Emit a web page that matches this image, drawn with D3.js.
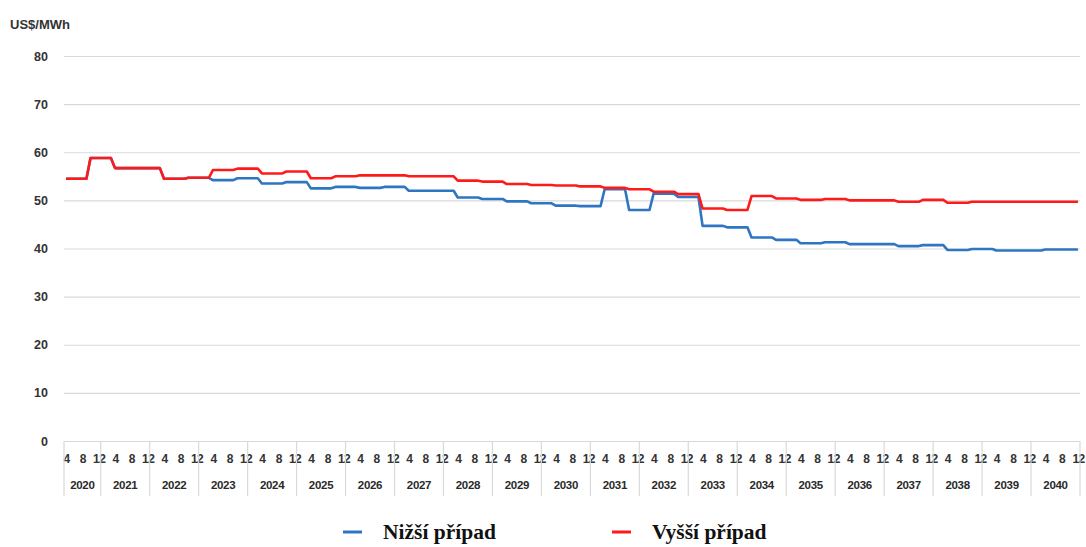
<!DOCTYPE html>
<html>
<head>
<meta charset="utf-8">
<script src="https://cdn.jsdelivr.net/npm/d3@7"></script>
<style>
  body { margin: 0; background: #fff; }
  svg { display: block; }
  .tick text { font-family: "Liberation Sans", Arial, sans-serif; font-weight: bold; fill: #333; }
</style>
</head>
<body>
<svg width="1086" height="547"></svg>
<script>
// semi-annual price periods (first month of each period)
var periodStart = [
  "2020-04", "2020-10", "2021-04", "2021-10", "2022-04", "2022-10",
  "2023-04", "2023-10", "2024-04", "2024-10", "2025-04", "2025-10",
  "2026-04", "2026-10", "2027-04", "2027-10", "2028-04", "2028-10",
  "2029-04", "2029-10", "2030-04", "2030-10", "2031-04", "2031-10",
  "2032-04", "2032-10", "2033-04", "2033-10", "2034-04", "2034-10",
  "2035-04", "2035-10", "2036-04", "2036-10", "2037-04", "2037-10",
  "2038-04", "2038-10", "2039-04", "2039-10", "2040-04", "2040-10"
];
var lowCase = [
  54.5, 58.8, 56.7, 56.7, 54.5, 54.7,
  54.2, 54.6, 53.5, 53.8, 52.5, 52.8,
  52.6, 52.8, 52.0, 52.0, 50.6, 50.3,
  49.8, 49.4, 48.9, 48.8, 52.3, 48.0,
  51.4, 50.7, 44.7, 44.4, 42.3, 41.8,
  41.1, 41.3, 40.9, 40.9, 40.5, 40.7,
  39.7, 39.9, 39.6, 39.6, 39.8, 39.8
];
var highCase = [
  54.5, 58.8, 56.7, 56.7, 54.5, 54.7,
  56.3, 56.6, 55.6, 56.0, 54.6, 55.0,
  55.2, 55.2, 55.0, 55.0, 54.1, 53.9,
  53.4, 53.2, 53.1, 52.9, 52.6, 52.3,
  51.8, 51.3, 48.3, 48.0, 50.9, 50.4,
  50.1, 50.3, 50.0, 50.0, 49.7, 50.1,
  49.5, 49.7, 49.7, 49.7, 49.7, 49.7
];
var years = [2020, 2021, 2022, 2023, 2024, 2025, 2026, 2027, 2028, 2029, 2030,
  2031, 2032, 2033, 2034, 2035, 2036, 2037, 2038, 2039, 2040];
var monthLabels = [4, 8, 12];
var yTicks = [0, 10, 20, 30, 40, 50, 60, 70, 80];
var firstMonth = 4;   // April 2020
var lastMonth = 12;   // December 2040

var svg = d3.select('svg');
var plotLeft = 64, plotRight = 1080, plotTop = 56, plotBottom = 441;

// month index from April 2020
var monthIdx = function(yr, m) { return (yr - years[0]) * 12 + (m - firstMonth); };
var lastIdx = monthIdx(years[years.length - 1], lastMonth);

var x = d3.scaleLinear().domain([-0.5, lastIdx + 0.5]).range([plotLeft, plotRight]);
var y = d3.scaleLinear().domain([0, 80]).range([plotBottom, plotTop]);

// gridlines + y labels
var yAxis = svg.append('g')
  .attr('transform', 'translate(' + plotLeft + ',0)')
  .call(d3.axisLeft(y).tickValues(yTicks).tickSize(-(plotRight - plotLeft)).tickPadding(16));
yAxis.select('.domain').remove();
yAxis.selectAll('.tick line').attr('stroke', '#d9d9d9').attr('stroke-width', 1.2);
yAxis.selectAll('.tick text').attr('font-size', 12.5).attr('fill', '#3a3a3a');

svg.append('text')
  .attr('x', 10).attr('y', 29)
  .attr('font-family', 'Liberation Sans, Arial, sans-serif')
  .attr('font-weight', 'bold').attr('font-size', 13).attr('fill', '#333')
  .text('US$/MWh');

// month tick labels
var monthTicks = [];
years.forEach(function(yr) {
  monthLabels.forEach(function(m) {
    var i = monthIdx(yr, m);
    if (i >= 0 && i <= lastIdx) monthTicks.push(i);
  });
});
var monthOf = function(i) { return ((i + firstMonth - 1) % 12) + 1; };
var xAxis = svg.append('g')
  .attr('transform', 'translate(0,' + plotBottom + ')')
  .call(d3.axisBottom(x).tickValues(monthTicks).tickSize(0).tickPadding(13)
    .tickFormat(function(i) { return monthOf(i); }));
xAxis.select('.domain').remove();
xAxis.selectAll('.tick text').attr('font-size', 12).attr('fill', '#1a1a1a')
  .attr('letter-spacing', -0.6);

// year separators and labels
var bounds = [ -0.5 ];
years.forEach(function(yr) { bounds.push(Math.min(monthIdx(yr, 12), lastIdx) + 0.5); });
svg.selectAll('line.sep')
  .data(bounds)
  .enter()
  .append('line')
  .attr('class', 'sep')
  .attr('x1', function(d) { return x(d); })
  .attr('x2', function(d) { return x(d); })
  .attr('y1', plotBottom)
  .attr('y2', 496)
  .attr('stroke', '#d9d9d9')
  .attr('stroke-width', 1.2);

svg.selectAll('text.year')
  .data(years)
  .enter()
  .append('text')
  .attr('class', 'year')
  .attr('x', function(d, k) { return (x(bounds[k]) + x(bounds[k + 1])) / 2; })
  .attr('y', 489)
  .attr('text-anchor', 'middle')
  .attr('font-family', 'Liberation Sans, Arial, sans-serif')
  .attr('font-weight', 'bold')
  .attr('font-size', 11.5)
  .attr('letter-spacing', -0.3)
  .attr('fill', '#2a2a2a')
  .text(function(d) { return d; });

// step series: each period is flat from its first to its last month
var buildPoints = function(values) {
  var pts = [];
  periodStart.forEach(function(p, k) {
    var a = p.split('-');
    var s = monthIdx(+a[0], +a[1]);
    var e;
    if (k < periodStart.length - 1) {
      var b = periodStart[k + 1].split('-');
      e = monthIdx(+b[0], +b[1]) - 1;
    } else {
      e = lastIdx;
    }
    pts.push([s, values[k]]);
    pts.push([e, values[k]]);
  });
  return pts;
};

var line = d3.line()
  .x(function(d) { return x(d[0]); })
  .y(function(d) { return y(d[1]); });

var series = [
  { name: 'Nižší případ', values: lowCase, color: '#2e75c2' },
  { name: 'Vyšší případ', values: highCase, color: '#ff1a1a' }
];

series.forEach(function(s) {
  svg.append('path')
    .attr('d', line(buildPoints(s.values)))
    .attr('fill', 'none')
    .attr('stroke', s.color)
    .attr('stroke-width', 2.6)
    .attr('stroke-linejoin', 'round');
});

// legend
var legendX = [343, 612];
var legend = svg.selectAll('g.legend')
  .data(series)
  .enter()
  .append('g')
  .attr('class', 'legend')
  .attr('transform', function(d, k) { return 'translate(' + legendX[k] + ',532)'; });
legend.append('line')
  .attr('x1', 0).attr('x2', 19)
  .attr('y1', 0).attr('y2', 0)
  .attr('stroke', function(d) { return d.color; })
  .attr('stroke-width', 3);
legend.append('text')
  .attr('x', 40).attr('y', 7)
  .attr('font-family', 'Liberation Serif, Times New Roman, serif')
  .attr('font-weight', 'bold')
  .attr('font-size', 21.5)
  .attr('fill', '#111')
  .text(function(d) { return d.name; });
</script>
</body>
</html>
